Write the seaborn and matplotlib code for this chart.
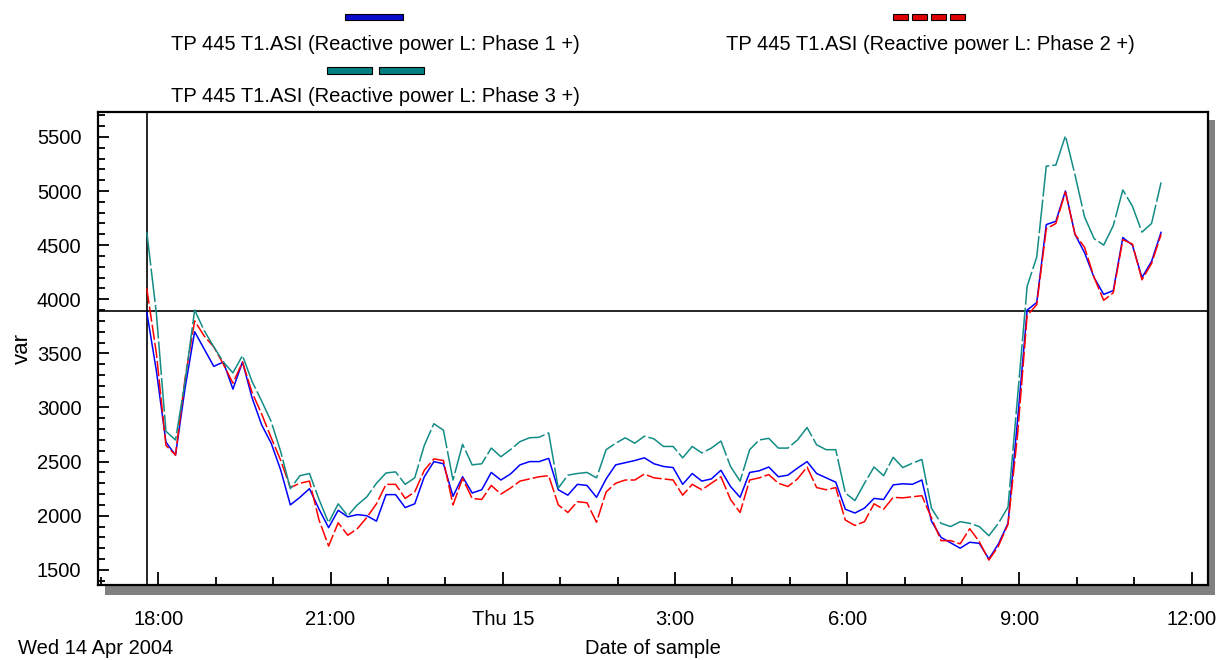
import numpy as np
import pandas as pd
import matplotlib
matplotlib.use("Agg")
import matplotlib.pyplot as plt
import matplotlib.dates as mdates
from matplotlib.patches import Rectangle
from matplotlib.ticker import MultipleLocator
import seaborn as sns

# ---------------- data ----------------
start_time = "2004-04-14 17:48"
sample_step = "10min"

phase1 = [3880, 3340, 2680, 2560, 3180, 3700, 3540, 3380, 3420, 3170,
          3420, 3090, 2840, 2670, 2420, 2100, 2170, 2250, 2060, 1890,
          2050, 1990, 2010, 2000, 1950, 2195, 2195, 2075, 2110, 2360,
          2500, 2480, 2180, 2360, 2210, 2240, 2400, 2330, 2385, 2470,
          2500, 2500, 2530, 2240, 2190, 2290, 2280, 2170, 2340, 2470,
          2490, 2510, 2535, 2480, 2455, 2445, 2290, 2390, 2320, 2340,
          2420, 2270, 2170, 2400, 2415, 2450, 2360, 2375, 2440, 2500,
          2390, 2350, 2310, 2060, 2025, 2070, 2160, 2150, 2285, 2295,
          2290, 2330, 1950, 1800, 1750, 1700, 1755, 1745, 1600, 1740,
          1930, 2885, 3900, 3970, 4690, 4720, 5000, 4600, 4430, 4200,
          4045, 4080, 4570, 4500, 4200, 4350, 4620]

phase2 = [4100, 3500, 2650, 2560, 3270, 3800, 3660, 3560, 3400, 3225,
          3420, 3140, 2940, 2720, 2510, 2260, 2300, 2320, 1960, 1720,
          1935, 1820, 1880, 1985, 2110, 2290, 2290, 2160, 2220, 2420,
          2525, 2510, 2100, 2345, 2160, 2150, 2280, 2200, 2255, 2320,
          2340, 2360, 2370, 2100, 2030, 2130, 2120, 1940, 2220, 2300,
          2330, 2330, 2385, 2350, 2340, 2330, 2190, 2290, 2240, 2300,
          2360, 2150, 2030, 2330, 2350, 2380, 2300, 2270, 2340, 2450,
          2260, 2240, 2260, 1960, 1910, 1945, 2110, 2060, 2170, 2165,
          2175, 2185, 1980, 1770, 1770, 1740, 1880, 1760, 1590, 1720,
          1920, 2750, 3850, 3950, 4650, 4700, 4990, 4600, 4480, 4200,
          3990, 4060, 4550, 4510, 4180, 4330, 4600]

phase3 = [4620, 3870, 2780, 2700, 3240, 3900, 3710, 3560, 3420, 3320,
          3480, 3240, 3060, 2870, 2590, 2250, 2370, 2390, 2150, 1935,
          2110, 2000, 2100, 2175, 2300, 2395, 2405, 2290, 2350, 2650,
          2850, 2790, 2330, 2660, 2470, 2480, 2625, 2545, 2610, 2685,
          2720, 2725, 2765, 2255, 2375, 2390, 2400, 2350, 2610, 2670,
          2720, 2670, 2735, 2710, 2640, 2640, 2535, 2640, 2580, 2625,
          2690, 2455, 2320, 2610, 2700, 2715, 2625, 2625, 2700, 2815,
          2655, 2610, 2610, 2210, 2140, 2300, 2450, 2370, 2540, 2445,
          2485, 2520, 2070, 1930, 1900, 1945, 1930, 1900, 1815, 1930,
          2080, 3100, 4120, 4390, 5230, 5240, 5510, 5150, 4760, 4560,
          4500, 4680, 5010, 4860, 4620, 4700, 5080]

series_names = ["TP 445 T1.ASI (Reactive power L: Phase 1 +)",
                "TP 445 T1.ASI (Reactive power L: Phase 2 +)",
                "TP 445 T1.ASI (Reactive power L: Phase 3 +)"]
series_colors = ["#0000ff", "#ff0000", "#138c86"]
legend_fills = ["#0a0acd", "#e00000", "#008080"]

cursor_value = 3888
x_range = ["2004-04-14 16:57", "2004-04-15 12:17"]
y_range = [1360, 5730]
xtick_times = ["2004-04-14 18:00", "2004-04-14 21:00", "2004-04-15 00:00",
               "2004-04-15 03:00", "2004-04-15 06:00", "2004-04-15 09:00",
               "2004-04-15 12:00"]
xtick_labels = ["18:00", "21:00", "Thu 15", "3:00", "6:00", "9:00", "12:00"]
yticks = [1500, 2000, 2500, 3000, 3500, 4000, 4500, 5000, 5500]
date_caption = "Wed 14 Apr 2004"
x_title = "Date of sample"
y_title = "var"

# ---------------- build frame ----------------
times = pd.date_range(start_time, periods=len(phase1), freq=sample_step)
df = pd.concat([
    pd.DataFrame({"time": times, "var": vals, "series": name})
    for name, vals in zip(series_names, [phase1, phase2, phase3])
], ignore_index=True)

# ---------------- style ----------------
sns.set_style("white")
plt.rcParams["font.family"] = ["Liberation Sans", "DejaVu Sans"]
plt.rcParams["text.color"] = "black"
plt.rcParams["axes.labelcolor"] = "black"
plt.rcParams["xtick.color"] = "black"
plt.rcParams["ytick.color"] = "black"
FS = 14.5

W, H = 1221, 660
fig = plt.figure(figsize=(W / 100, H / 100), dpi=100)
fig.patch.set_facecolor("white")

L, R, T, B = 98, 1208, 112, 585
ax = fig.add_axes([L / W, 1 - B / H, (R - L) / W, (B - T) / H])
ax.set_facecolor("white")

# drop shadow behind the plot frame
fig.add_artist(Rectangle((105 / W, 1 - 595 / H), (1215 - 105) / W, (595 - 120) / H,
                         transform=fig.transFigure, facecolor="#808080",
                         edgecolor="none", zorder=-5))

sns.lineplot(data=df, x="time", y="var", hue="series", style="series",
             palette=dict(zip(series_names, series_colors)),
             dashes=dict(zip(series_names, ["", (10, 2), (22, 2)])),
             estimator=None, legend=False, linewidth=1.1, ax=ax)

# cursor cross-hair
ax.axvline(times[0], color="black", linewidth=1.2, zorder=1)
ax.axhline(cursor_value, color="black", linewidth=1.2, zorder=1)

ax.set_xlim(pd.Timestamp(x_range[0]), pd.Timestamp(x_range[1]))
ax.set_ylim(*y_range)

ax.set_xticks(pd.to_datetime(xtick_times))
ax.set_xticklabels(xtick_labels)
ax.xaxis.set_minor_locator(mdates.HourLocator())
ax.set_yticks(yticks)
ax.yaxis.set_minor_locator(MultipleLocator(100))

ax.tick_params(axis="x", which="major", direction="in", length=9.5, width=1.3,
               pad=18, labelsize=FS, colors="black", bottom=True)
ax.tick_params(axis="x", which="minor", direction="in", length=5.5, width=1.3,
               bottom=True)
ax.tick_params(axis="y", which="major", direction="in", length=8, width=1.3,
               pad=12, labelsize=FS, colors="black", left=True)
ax.tick_params(axis="y", which="minor", direction="in", length=5, width=1.3,
               left=True)

for sp in ax.spines.values():
    sp.set_visible(True)
    sp.set_color("black")
    sp.set_linewidth(1.6)

ax.set_xlabel(x_title, fontsize=FS, color="black")
ax.xaxis.label.set_va("center")
ax.xaxis.set_label_coords(0.5, -(649 - B) / (B - T))
ax.set_ylabel(y_title, fontsize=FS + 1.5, color="black")
ax.yaxis.label.set_va("center")
ax.yaxis.set_label_coords((22 - L) / (R - L), 0.5)

fig.text(18 / W, 1 - 649 / H, date_caption, fontsize=FS, ha="left", va="center",
         color="black")

# ---------------- legend (top) ----------------
def fig_rect(x0, y0, x1, y1, color):
    fig.add_artist(Rectangle((x0 / W, 1 - y1 / H), (x1 - x0) / W, (y1 - y0) / H,
                             transform=fig.transFigure, facecolor=color,
                             edgecolor="black", linewidth=0.8))

fig_rect(345, 14, 403, 20, legend_fills[0])
for x0 in [893, 912, 931, 950]:
    fig_rect(x0, 14, x0 + 15, 20, legend_fills[1])
for x0 in [327, 379]:
    fig_rect(x0, 67, x0 + 45, 74, legend_fills[2])

for (xc, yc), name in zip([(375, 45), (930, 45), (375, 96)], series_names):
    fig.text(xc / W, 1 - yc / H, name, fontsize=FS, ha="center", va="center",
             color="black")

fig.savefig("out.png", dpi=100)
